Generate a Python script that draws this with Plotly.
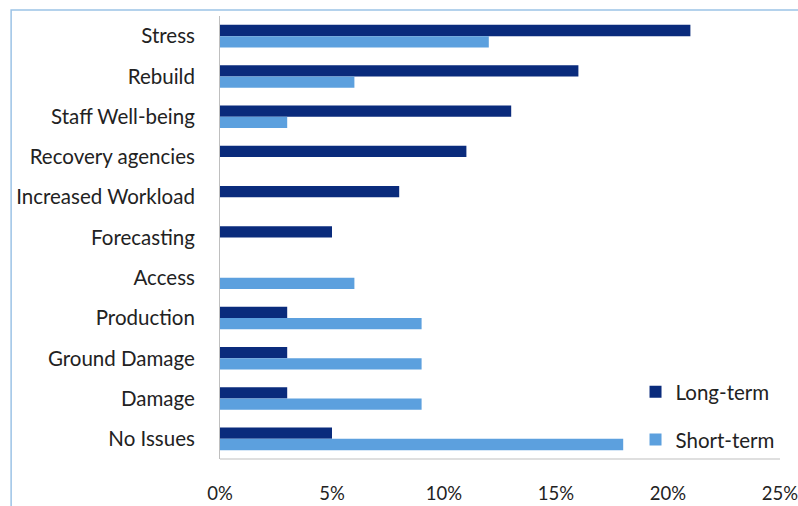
import plotly.graph_objects as go

categories = ["Stress", "Rebuild", "Staff Well-being", "Recovery agencies",
              "Increased Workload", "Forecasting", "Access", "Production",
              "Ground Damage", "Damage", "No Issues"]
long_term = [0.21, 0.16, 0.13, 0.11, 0.08, 0.05, 0.0, 0.03, 0.03, 0.03, 0.05]
short_term = [0.12, 0.06, 0.03, 0.0, 0.0, 0.0, 0.06, 0.09, 0.09, 0.09, 0.18]
x_ticks = [0, 0.05, 0.10, 0.15, 0.20, 0.25]

fig = go.Figure()
fig.add_trace(go.Bar(y=categories, x=long_term, orientation="h", name="Long-term",
                     marker=dict(color="#0a2b7c", line=dict(width=0)), legendgroup="a"))
fig.add_trace(go.Bar(y=categories, x=short_term, orientation="h", name="Short-term",
                     marker=dict(color="#5ca0de", line=dict(width=0)), legendgroup="b"))

fig.update_layout(
    width=798, height=506,
    margin=dict(l=220, r=18, t=16, b=47, autoexpand=False),
    paper_bgcolor="white", plot_bgcolor="white",
    barmode="group", bargap=0.44, bargroupgap=0,
    font=dict(family="Lato, 'Open Sans', sans-serif", size=20.5, color="#222222"),
    showlegend=True,
    legend=dict(x=0.742, y=0.097, xanchor="left", yanchor="middle",
                traceorder="grouped", tracegroupgap=18,
                bgcolor="rgba(0,0,0,0)", font=dict(size=20.5, color="#222222")),
    xaxis=dict(range=[0, 0.25], tickvals=x_ticks, tickformat=".0%",
               showgrid=False, zeroline=False, showline=False,
               ticks="", ticklabelstandoff=21, tickfont=dict(size=18.5),
               ticklabeloverflow="allow"),
    yaxis=dict(autorange="reversed", showgrid=False, zeroline=False,
               showline=True, linecolor="#bfbfbf", linewidth=1,
               ticks="", ticklabelstandoff=20),
    shapes=[
        dict(type="line", xref="paper", yref="paper", x0=0, x1=1, y0=0, y1=0,
             line=dict(color="#bfbfbf", width=1)),
        dict(type="rect", xref="paper", yref="paper", x0=-0.373, x1=1.1,
             y0=-0.2, y1=1.0135, line=dict(color="#9cc3e6", width=1.5),
             fillcolor="rgba(0,0,0,0)", layer="below"),
    ],
)

fig.write_html("out.html", config={"displayModeBar": False},
               post_script="document.body.style.margin='0';document.body.style.overflow='hidden';")
